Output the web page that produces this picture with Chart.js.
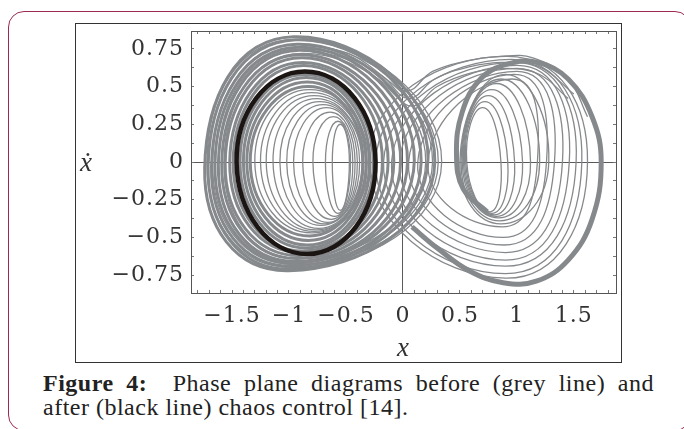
<!DOCTYPE html>
<html>
<head>
<meta charset="utf-8">
<script src="https://cdn.jsdelivr.net/npm/chart.js@4.4.0/dist/chart.umd.min.js"></script>
<style>
  html, body { margin: 0; padding: 0; background: #fff; }
  body { width: 684px; height: 429px; overflow: hidden; position: relative; }
  #card { position: absolute; left: 8px; top: 11px; width: 683px; height: 420px; box-sizing: border-box;
          border: 1.5px solid #9d2b4f; border-radius: 16px; }
  #fig { position: absolute; left: 75px; top: 23px; width: 547px; height: 340px; box-sizing: border-box;
         border: 1px solid #333; }
  #chart { position: absolute; left: 75px; top: 23px; }
  #ylab { position: absolute; left: 80px; top: 147px; line-height: 26px;
          font: italic 27px "Liberation Serif", "DejaVu Serif", serif; color: #333; }
  .cap { position: absolute; left: 43px; width: 611px; line-height: 26px; white-space: nowrap;
         font: 24px "Liberation Serif", serif; letter-spacing: 0.5px; color: #222; }
  #cap1 { top: 370px; text-align: justify; text-align-last: justify; }
  #cap2 { top: 394px; }
</style>
</head>
<body>
<div id="card"></div>
<div id="fig"></div>
<canvas id="chart" width="547" height="340"></canvas>
<div id="ylab">ẋ</div>
<div class="cap" id="cap1"><b>Figure 4:</b>&nbsp; Phase plane diagrams before (grey line) and</div>
<div class="cap" id="cap2">after (black line) chaos control [14].</div>
<script>
// axis ticks
const xMinorTicks = [-1.8, -1.7, -1.6, -1.5, -1.4, -1.3, -1.2, -1.1, -1.0, -0.9, -0.8, -0.7, -0.6, -0.5, -0.4, -0.3, -0.2, -0.1,
                     0, 0.1, 0.2, 0.3, 0.4, 0.5, 0.6, 0.7, 0.8, 0.9, 1.0, 1.1, 1.2, 1.3, 1.4, 1.5, 1.6, 1.7, 1.8];
const xMajorTicks = [-1.5, -1, -0.5, 0, 0.5, 1, 1.5];
const xTickLabels = ['\u22121.5', '\u22121', '\u22120.5', '0', '0.5', '1', '1.5'];
const yMinorTicks = [-0.75, -0.625, -0.5, -0.375, -0.25, -0.125, 0, 0.125, 0.25, 0.375, 0.5, 0.625, 0.75];
const yMajorTicks = [-0.75, -0.5, -0.25, 0, 0.25, 0.5, 0.75];
const yTickLabels = ['\u22120.75', '\u22120.5', '\u22120.25', '0', '0.25', '0.5', '0.75'];

// controlled orbit (black): left, top, right, bottom points
const blackLoop = [[-1.46, 0.0], [-0.86, 0.60], [-0.24, 0.0], [-0.84, -0.61]];

// left lobe, dense outer band
const leftBand = [
  [[-1.74, -0.04], [-0.96, 0.83], [0.28, 0.0], [-1.00, -0.72]],
  [[-1.71, -0.03], [-0.94, 0.81], [0.22, 0.02], [-0.98, -0.71]],
  [[-1.68, -0.03], [-0.93, 0.78], [0.16, 0.0], [-0.97, -0.69]],
  [[-1.65, -0.02], [-0.92, 0.76], [0.10, 0.01], [-0.95, -0.67]],
  [[-1.62, -0.02], [-0.91, 0.74], [0.04, 0.0], [-0.94, -0.66]],
  [[-1.59, -0.01], [-0.90, 0.71], [-0.02, 0.0], [-0.93, -0.64]],
  [[-1.56, -0.01], [-0.89, 0.69], [-0.08, 0.0], [-0.91, -0.62]],
  [[-1.52, 0.0], [-0.88, 0.66], [-0.13, 0.0], [-0.90, -0.60]],
  [[-1.49, 0.0], [-0.87, 0.64], [-0.18, 0.0], [-0.88, -0.59]],
  [[-1.43, 0.0], [-0.86, 0.58], [-0.26, 0.0], [-0.85, -0.57]],
  [[-1.40, 0.0], [-0.85, 0.56], [-0.29, 0.0], [-0.84, -0.55]],
  [[-1.37, 0.0], [-0.84, 0.53], [-0.32, 0.0], [-0.83, -0.52]],
  [[-1.34, 0.0], [-0.83, 0.50], [-0.35, 0.0], [-0.82, -0.49]]
];

// left lobe, thin inner loops
const leftInner = [
  [[-1.30, 0.0], [-0.82, 0.48], [-0.30, 0.0], [-0.80, -0.47]],
  [[-1.25, 0.0], [-0.80, 0.46], [-0.32, 0.0], [-0.78, -0.46]],
  [[-1.20, 0.0], [-0.78, 0.44], [-0.33, 0.0], [-0.76, -0.45]],
  [[-1.14, 0.0], [-0.76, 0.42], [-0.35, 0.0], [-0.74, -0.44]],
  [[-1.08, 0.0], [-0.73, 0.40], [-0.36, 0.0], [-0.72, -0.42]],
  [[-1.02, 0.0], [-0.70, 0.38], [-0.38, 0.0], [-0.69, -0.41]],
  [[-0.96, 0.0], [-0.67, 0.36], [-0.40, 0.0], [-0.66, -0.40]],
  [[-0.88, 0.0], [-0.64, 0.33], [-0.42, 0.0], [-0.63, -0.38]],
  [[-0.79, 0.0], [-0.61, 0.30], [-0.44, 0.0], [-0.60, -0.36]],
  [[-0.68, 0.0], [-0.57, 0.27], [-0.46, 0.0], [-0.57, -0.34]],
  [[-0.62, 0.0], [-0.55, 0.25], [-0.47, 0.0], [-0.55, -0.32]]
];

// left lobe loops that reach past the saddle
const leftCross = [
  [[-1.72, 0.0], [-0.95, 0.81], [0.34, 0.0], [-0.97, -0.70]],
  [[-1.67, 0.0], [-0.92, 0.78], [0.31, 0.0], [-0.95, -0.68]],
  [[-1.62, 0.0], [-0.90, 0.75], [0.26, 0.0], [-0.93, -0.66]],
  [[-1.57, 0.0], [-0.88, 0.72], [0.20, 0.0], [-0.91, -0.64]]
];

// arcs leaving the top of the left lobe for the top of the right lobe (open paths)
const topCross = [
  [[-0.96, 0.83], [-0.50, 0.76], [-0.20, 0.62], [0.03, 0.47], [0.26, 0.60], [0.56, 0.67], [0.85, 0.70], [1.14, 0.69], [1.45, 0.55], [1.62, 0.30]],
  [[-0.90, 0.78], [-0.48, 0.72], [-0.18, 0.57], [0.05, 0.42], [0.28, 0.55], [0.58, 0.63], [0.88, 0.66], [1.20, 0.63], [1.50, 0.45]],
  [[-0.85, 0.74], [-0.45, 0.67], [-0.15, 0.50], [0.08, 0.37], [0.30, 0.50], [0.60, 0.59], [0.90, 0.62], [1.20, 0.58], [1.45, 0.42]]
];

// right lobe loops coming in from the saddle
const rightCross = [
  [[-0.30, 0.02], [0.92, 0.70], [1.62, 0.0], [0.90, -0.77]],
  [[-0.24, 0.0], [0.95, 0.68], [1.57, 0.0], [0.90, -0.74]],
  [[-0.17, 0.0], [0.98, 0.66], [1.52, 0.0], [0.90, -0.69]],
  [[-0.10, 0.0], [1.00, 0.64], [1.46, 0.0], [0.90, -0.65]],
  [[-0.03, 0.0], [1.00, 0.62], [1.40, 0.0], [0.90, -0.60]],
  [[0.05, 0.0], [1.00, 0.60], [1.33, 0.0], [0.89, -0.55]],
  [[0.13, 0.0], [0.98, 0.58], [1.26, 0.0], [0.88, -0.50]],
  [[0.22, 0.0], [0.96, 0.55], [1.18, 0.0], [0.87, -0.43]]
];

// right lobe, inner cluster
const rightInner = [
  [[0.56, 0.0], [0.70, 0.36], [0.86, 0.0], [0.76, -0.33]],
  [[0.55, 0.0], [0.72, 0.40], [0.92, 0.0], [0.78, -0.34]],
  [[0.54, 0.0], [0.75, 0.44], [0.98, 0.0], [0.80, -0.35]],
  [[0.53, 0.0], [0.78, 0.48], [1.05, 0.0], [0.82, -0.36]],
  [[0.52, 0.0], [0.82, 0.52], [1.12, 0.0], [0.84, -0.37]],
  [[0.51, 0.0], [0.86, 0.55], [1.20, 0.0], [0.85, -0.39]],
  [[0.50, 0.0], [0.90, 0.58], [1.28, 0.0], [0.86, -0.41]]
];

// right lobe, thick band (open path)
const rightThick = [[0.74, -0.33], [0.53, -0.18], [0.47, 0.05], [0.52, 0.33], [0.68, 0.55], [0.92, 0.65], [1.18, 0.66],
                    [1.45, 0.55], [1.66, 0.30], [1.74, 0.0], [1.66, -0.38], [1.45, -0.65], [1.17, -0.79], [0.88, -0.80],
                    [0.58, -0.72], [0.30, -0.57], [0.08, -0.43]];

const GREY = '#86898c';
const BLACK = '#1b1513';
const datasets = [];

function addLoop(pts, color, width) {
    const n = pts.length;
    // wrap one point on each side so every drawn segment has both neighbours
    const data = [pts[n - 1], ...pts, pts[0], pts[1]].map(p => ({x: p[0], y: p[1]}));
    const lastSeg = data.length - 2;
    datasets.push({
        data: data,
        showLine: true,
        pointRadius: 0,
        borderColor: color,
        borderWidth: width,
        tension: 0.55,
        segment: {
            borderColor: c => (c.p0DataIndex === 0 || c.p0DataIndex === lastSeg) ? 'rgba(0,0,0,0)' : undefined
        }
    });
}

function addPath(pts, color, width) {
    datasets.push({
        data: pts.map(p => ({x: p[0], y: p[1]})),
        showLine: true,
        pointRadius: 0,
        borderColor: color,
        borderWidth: width,
        tension: 0.4
    });
}

addLoop(blackLoop, BLACK, 4.5);
addPath(rightThick, GREY, 5);
topCross.forEach(p => addPath(p, GREY, 1.3));
leftInner.forEach(p => addLoop(p, GREY, 1.3));
rightInner.forEach(p => addLoop(p, GREY, 1.3));
leftCross.forEach(p => addLoop(p, GREY, 1.3));
rightCross.forEach(p => addLoop(p, GREY, 1.3));
leftBand.forEach(p => addLoop(p, GREY, 3));

function labelFor(majors, labels) {
    return v => {
        const i = majors.findIndex(m => Math.abs(m - v) < 1e-6);
        return i < 0 ? '' : labels[i];
    };
}

function noPad(s) {
    s.paddingLeft = 0;
    s.paddingRight = 0;
    s.paddingTop = 0;
    s.paddingBottom = 0;
}

// the printed labels are wide, spread the glyphs a little
const wideText = {
    id: 'wideText',
    beforeDraw(chart) { chart.ctx.letterSpacing = '1px'; }
};

const tickFont = {family: 'DejaVu Serif', size: 22};
const zeroLine = c => (c.tick && c.tick.value === 0) ? '#5a5a5a' : 'rgba(0,0,0,0)';

new Chart(document.getElementById('chart'), {
    type: 'scatter',
    data: {datasets: datasets},
    plugins: [wideText],
    options: {
        responsive: false,
        animation: false,
        devicePixelRatio: 1,
        layout: {padding: {left: 0, top: 8, right: 6, bottom: 0}},
        plugins: {legend: {display: false}, tooltip: {enabled: false}},
        scales: {
            x: {
                type: 'linear', position: 'bottom', min: -1.86, max: 1.87, z: 1,
                afterBuildTicks: s => { s.ticks = xMinorTicks.map(v => ({value: v})); },
                afterFit: s => { s.height = 70; noPad(s); },
                ticks: {callback: labelFor(xMajorTicks, xTickLabels), autoSkip: false, maxRotation: 0,
                        padding: 13, color: '#333', font: tickFont},
                grid: {color: zeroLine, tickColor: '#777', tickLength: -3, lineWidth: 1},
                border: {color: '#555', width: 1},
                title: {display: true, text: 'x', color: '#333', padding: {top: 0, bottom: 0},
                        font: {family: 'Liberation Serif', style: 'italic', size: 27, lineHeight: 1.05}}
            },
            y: {
                type: 'linear', position: 'left', min: -0.868, max: 0.868, z: 1,
                afterBuildTicks: s => { s.ticks = yMinorTicks.map(v => ({value: v})); },
                afterFit: s => { s.width = 116; noPad(s); },
                ticks: {callback: labelFor(yMajorTicks, yTickLabels), autoSkip: false,
                        padding: 10, color: '#333', font: tickFont},
                grid: {color: zeroLine, tickColor: '#777', tickLength: -3, lineWidth: 1},
                border: {color: '#555', width: 1}
            },
            x2: {
                type: 'linear', position: 'top', min: -1.86, max: 1.87,
                afterBuildTicks: s => { s.ticks = xMinorTicks.map(v => ({value: v})); },
                afterFit: s => { s.height = 0; noPad(s); },
                ticks: {display: false},
                grid: {drawOnChartArea: false, tickColor: '#777', tickLength: -3},
                border: {color: '#555', width: 1}
            },
            y2: {
                type: 'linear', position: 'right', min: -0.868, max: 0.868,
                afterBuildTicks: s => { s.ticks = yMinorTicks.map(v => ({value: v})); },
                afterFit: s => { s.width = 0; noPad(s); },
                ticks: {display: false},
                grid: {drawOnChartArea: false, tickColor: '#777', tickLength: -3},
                border: {color: '#555', width: 1}
            }
        }
    }
});
</script>
</body>
</html>
